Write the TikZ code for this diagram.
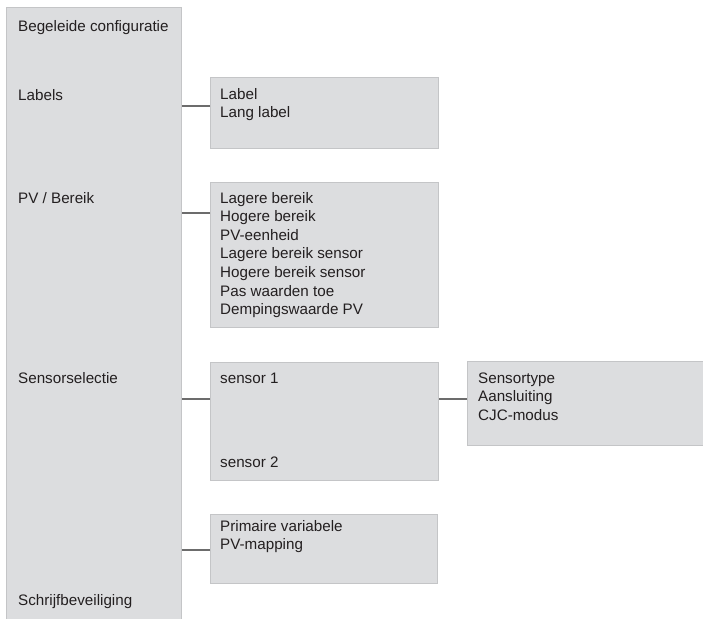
\documentclass[tikz,border=0pt]{standalone}
\usepackage{fontspec}
\setmainfont{Liberation Sans}
\usepackage{tikz}
\usetikzlibrary{calc,positioning}
\definecolor{boxgray}{RGB}{220,221,223}
\definecolor{edgegray}{RGB}{196,197,199}
\definecolor{linkgray}{RGB}{108,108,108}
\definecolor{txtgray}{RGB}{35,31,32}
\newcommand{\menulines}[1]{\begin{tabular}[t]{@{}l@{}}#1\end{tabular}}
\tikzset{
    menubox/.style={draw=edgegray, fill=boxgray, line width=1.4pt, anchor=north west, inner sep=0pt},
    menutext/.style={text=txtgray, font=\fontsize{15.2}{18.6}\selectfont, anchor=base west, inner sep=0pt},
    link/.style={draw=linkgray, line width=2.2pt}
}

\begin{document}
\begin{tikzpicture}[x=1pt,y=-1pt]
    \useasboundingbox (0,0) rectangle (703,618);

    % boxes
    \node[menubox, minimum width=175pt, minimum height=640pt] (colbox) at (6,7) {};
    \node[menubox, minimum width=228pt, minimum height=71pt] (labelbox) at (210,77) {};
    \node[menubox, minimum width=228pt, minimum height=145pt] (pvbox) at (210,182) {};
    \node[menubox, minimum width=228pt, minimum height=118pt] (sensorbox) at (210,362) {};
    \node[menubox, minimum width=245pt, minimum height=84pt] (typebox) at (467,361) {};
    \node[menubox, minimum width=227pt, minimum height=69pt] (mapbox) at (210,514) {};

    % connector ends
    \coordinate (labeljoin) at ([yshift=-29pt]labelbox.north west);
    \coordinate (pvjoin) at ([yshift=-31pt]pvbox.north west);
    \coordinate (sensorjoin) at ([yshift=-37pt]sensorbox.north west);
    \coordinate (typejoin) at ([yshift=-38pt]typebox.north west);
    \coordinate (mapjoin) at ([yshift=-36pt]mapbox.north west);

    % connectors
    \draw[link] (labeljoin) -- (colbox.east |- labeljoin);
    \draw[link] (pvjoin) -- (colbox.east |- pvjoin);
    \draw[link] (sensorjoin) -- (colbox.east |- sensorjoin);
    \draw[link] (typejoin) -- (sensorbox.east |- typejoin);
    \draw[link] (mapjoin) -- (colbox.east |- mapjoin);

    % texts
    \node[menutext] (t0) at (18,32) {Begeleide configuratie};
    \node[menutext] (t1) at (18,100) {Labels};
    \node[menutext] (t2) at (18,203) {PV / Bereik};
    \node[menutext] (t3) at (18,383) {Sensorselectie};
    \node[menutext] (t4) at (18,605) {Schrijfbeveiliging};

    \node[menutext] (l1) at (220,99) {\menulines{Label\\Lang label}};
    \node[menutext] (l2) at (220,203) {\menulines{Lagere bereik\\Hogere bereik\\PV-eenheid\\Lagere bereik sensor\\Hogere bereik sensor\\Pas waarden toe\\Dempingswaarde PV}};
    \node[menutext] (s1) at (220,383) {sensor 1};
    \node[menutext] (s2) at (220,467) {sensor 2};
    \node[menutext] (l3) at (478,383) {\menulines{Sensortype\\Aansluiting\\CJC-modus}};
    \node[menutext] (l4) at (220,531) {\menulines{Primaire variabele\\PV-mapping}};
\end{tikzpicture}
\end{document}
